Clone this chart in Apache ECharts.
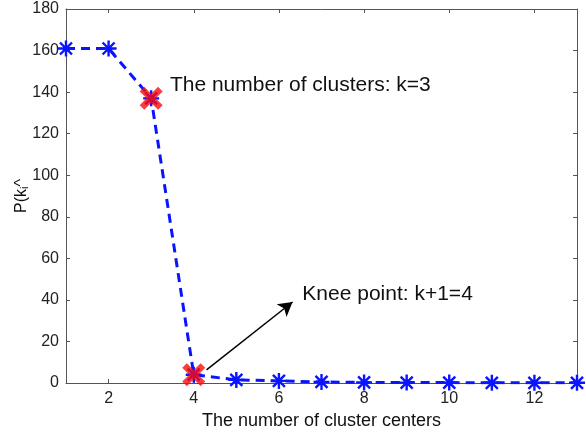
<!DOCTYPE html>
<html><head><meta charset="utf-8">
<script src="https://cdn.jsdelivr.net/npm/echarts@6/dist/echarts.min.js"></script>
<style>html,body{margin:0;padding:0;background:#fff}#c{width:586px;height:439px}</style>
</head><body><div id="c"></div>
<script>
const kValues = [1,2,3,4,5,6,7,8,9,10,11,12,13];
const pValues = [161,161,137,4,1.5,1,0.5,0.3,0.2,0.2,0.1,0.1,0.1];
const highlightK = [3,4];
const xTicks = [2,4,6,8,10,12];
const yTicks = [0,20,40,60,80,100,120,140,160,180];
const annoClusters = {text:'The number of clusters: k=3', k:3.44, p:143.5};
const annoKnee = {text:'Knee point: k+1=4', k:6.55, p:42.5};
const arrowFrom = [4.3, 6.3];
const arrowTo = [6.32, 39];

const star = 'path://M0 8.5H20V11.5H0Z M8.5 0H11.5V20H8.5Z M3.56 1.44L18.56 16.44L16.44 18.56L1.44 3.56Z M16.44 1.44L18.56 3.56L3.56 18.56L1.44 16.44Z';
const cross = 'path://M0 4L4 0L10 6L16 0L20 4L14 10L20 16L16 20L10 14L4 20L0 16L6 10Z';
const font = 'Liberation Sans, Arial, Helvetica, sans-serif';
const axisCol = '#555';

const chart = echarts.init(document.getElementById('c'));
const baseX = {type:'value', min:1, max:13,
  axisLine:{onZero:false, lineStyle:{color:axisCol, width:1}},
  splitLine:{show:false}};
const baseY = {type:'value', min:0, max:180,
  axisLine:{onZero:false, lineStyle:{color:axisCol, width:1}},
  splitLine:{show:false}};
chart.setOption({
  animation:false,
  grid:{left:66, right:9, top:9, bottom:56, containLabel:false},
  xAxis:[
    Object.assign({}, baseX, {position:'bottom',
      name:'The number of cluster centers', nameLocation:'middle', nameGap:24,
      nameTextStyle:{fontFamily:font, fontSize:18, color:'#111'},
      axisTick:{inside:true, length:4, customValues:xTicks, lineStyle:{color:axisCol}},
      axisLabel:{customValues:xTicks, fontFamily:font, fontSize:16, color:'#222', margin:8}}),
    Object.assign({}, baseX, {position:'top',
      axisTick:{inside:true, length:4, customValues:xTicks, lineStyle:{color:axisCol}},
      axisLabel:{show:false}})
  ],
  yAxis:[
    Object.assign({}, baseY, {position:'left', interval:20,
      name:'{a|P(k}{s|i}{a|^}', nameLocation:'middle', nameGap:36, nameRotate:90, nameMoveOverlap:false,
      nameTextStyle:{rich:{a:{fontFamily:font, fontSize:16, color:'#111'}, s:{fontFamily:font, fontSize:11, color:'#111', padding:[0,0,-6,0]}}},
      axisTick:{inside:true, length:4, lineStyle:{color:axisCol}},
      axisLabel:{fontFamily:font, fontSize:16, color:'#222', margin:7}}),
    Object.assign({}, baseY, {position:'right', interval:20,
      axisTick:{inside:true, length:4, lineStyle:{color:axisCol}},
      axisLabel:{show:false}})
  ],
  series:[
    {type:'line', xAxisIndex:0, yAxisIndex:0, z:2,
      data:kValues.map((k,i)=>[k,pValues[i]]),
      symbol:star, symbolSize:16, showAllSymbol:true,
      itemStyle:{color:'#0a14ff'},
      lineStyle:{color:'#0a14ff', width:3, type:[9,6]},
      markLine:{silent:true, symbol:['none','arrow'], symbolSize:[12,14],
        lineStyle:{color:'#000', width:1.5, type:'solid'}, label:{show:false},
        data:[[{coord:arrowFrom},{coord:arrowTo}]]},
      markPoint:{symbol:'circle', symbolSize:0, silent:true,
        label:{show:true, position:'right', distance:0, fontFamily:font, fontSize:21, color:'#111', formatter:p=>p.name},
        data:[{name:annoClusters.text, coord:[annoClusters.k, annoClusters.p]},
              {name:annoKnee.text, coord:[annoKnee.k, annoKnee.p]}]}
    },
    {type:'scatter', xAxisIndex:0, yAxisIndex:0, z:5,
      symbol:cross, symbolSize:23, itemStyle:{color:'#ff0a0a'},
      data:highlightK.map(k=>[k, pValues[kValues.indexOf(k)]])}
  ]
});
</script></body></html>
